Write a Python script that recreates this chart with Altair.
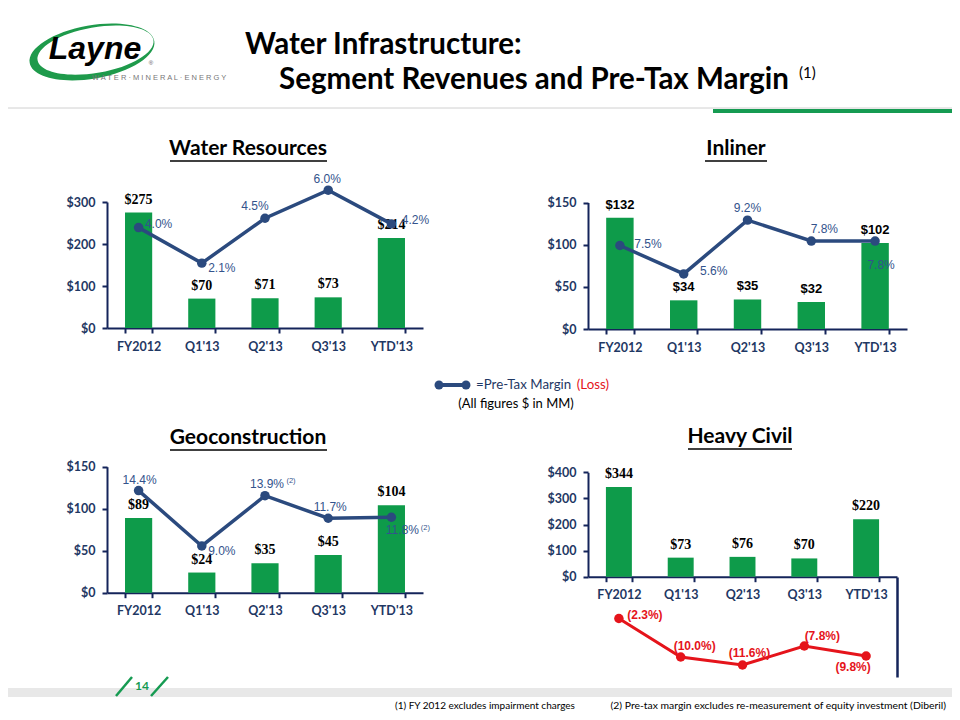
import altair as alt
import pandas as pd

# ---------------- data ----------------
CATEGORIES = ["FY2012", "Q1'13", "Q2'13", "Q3'13", "YTD'13"]

WR_REVENUE = [275, 70, 71, 73, 214]
WR_MARGIN = [4.0, 2.1, 4.5, 6.0, 4.2]
WR_TICKS = [0, 100, 200, 300]

IN_REVENUE = [132, 34, 35, 32, 102]
IN_MARGIN = [7.5, 5.6, 9.2, 7.8, 7.8]
IN_TICKS = [0, 50, 100, 150]

GEO_REVENUE = [89, 24, 35, 45, 104]
GEO_MARGIN = [14.4, 9.0, 13.9, 11.7, 11.8]
GEO_NOTES = ["", "", "(2)", "", "(2)"]
GEO_TICKS = [0, 50, 100, 150]

HC_REVENUE = [344, 73, 76, 70, 220]
HC_MARGIN = [-2.3, -10.0, -11.6, -7.8, -9.8]
HC_TICKS = [0, 100, 200, 300, 400]

# ---------------- style ----------------
W, H = 944, 704
M = 8


def P(v):
    return v - M


GREEN = "#0E9B4A"
NAVY = "#14245A"
AXIS_LABEL = "#1F3864"
LINE_NAVY = "#2B4A7E"
MARGIN_TEXT = "#33538C"
RED = "#E5141B"
SANS = "Liberation Sans"
SERIF = "Liberation Serif"
CAL = "Lato"


def fmt_margin(v):
    return f"({abs(v):.1f}%)" if v < 0 else f"{v:.1f}%"


def make_df(rev, margin, notes=None):
    return pd.DataFrame({
        "idx": list(range(len(CATEGORIES))),
        "cat": CATEGORIES,
        "rev": rev,
        "margin": margin,
        "rlabel": [f"${v}" for v in rev],
        "mlabel": [fmt_margin(v) for v in margin],
        "note": notes if notes else [""] * len(CATEGORIES),
    })


def panel(df, cfg):
    x = alt.X(
        "cat:N", sort=CATEGORIES, title=None,
        scale=alt.Scale(range=[P(cfg["x0"]), P(cfg["x1"])],
                        paddingInner=cfg["pad"], paddingOuter=cfg["pad"] / 2),
        axis=alt.Axis(orient="bottom", offset=P(cfg["y0"]) - H, tickBand="extent",
                      labelAngle=0, domainColor=NAVY, domainWidth=2, tickColor=NAVY,
                      tickWidth=2, tickSize=5, labelPadding=7, labelFont=CAL,
                      labelFontSize=12.5, labelFontWeight="bold", labelColor=AXIS_LABEL,
                      grid=False),
    )
    ybar = alt.Y(
        "rev:Q", title=None,
        scale=alt.Scale(domain=[0, cfg["ymax"]], range=[P(cfg["y0"]), P(cfg["y1"])],
                        nice=False, zero=True),
        axis=alt.Axis(orient="left", offset=-P(cfg["x0"]), values=cfg["ticks"],
                      labelExpr="'$' + datum.value", grid=False, domainColor=NAVY,
                      domainWidth=2, tickColor=NAVY, tickWidth=2, tickSize=5,
                      labelPadding=7, labelFont=CAL, labelFontSize=12.5,
                      labelFontWeight="bold", labelColor=AXIS_LABEL),
    )
    lr = cfg.get("lrange", (cfg["y0"], cfg["y1"]))
    if cfg.get("right_axis"):
        laxis = alt.Axis(orient="right", offset=P(cfg["x1"]) - W, ticks=False,
                         labels=False, grid=False, domainColor=NAVY, domainWidth=2.5)
    else:
        laxis = None
    yline = alt.Y("margin:Q", title=None,
                  scale=alt.Scale(domain=cfg["ldom"], range=[P(lr[0]), P(lr[1])],
                                  nice=False, zero=False),
                  axis=laxis)

    base = alt.Chart(df)
    bars = base.mark_bar(color=GREEN).encode(x=x, y=ybar)
    blabels = base.mark_text(font=cfg["barfont"], fontSize=cfg["barsize"], fontWeight="bold",
                             color="black", baseline="middle", dy=-13).encode(
        x=x, y=ybar, text="rlabel:N")
    bar_group = alt.layer(bars, blabels)

    lcolor = cfg["lcolor"]
    line = base.mark_line(color=lcolor, strokeWidth=cfg["lw"]).encode(x=x, y=yline)
    pts = base.mark_point(filled=True, color=lcolor, size=90, opacity=1).encode(
        x=x, y=yline)
    line_layers = [line, pts]
    for i, (dx, dy) in enumerate(cfg["offsets"]):
        line_layers.append(
            base.transform_filter(alt.datum.idx == i).mark_text(
                font=SANS, fontSize=12, fontWeight=cfg["mweight"], color=cfg["mcolor"],
                dx=dx, dy=dy, baseline="middle", align="center").encode(
                x=x, y=yline, text="mlabel:N"))
    for i, (dx, dy) in cfg.get("note_offsets", {}).items():
        line_layers.append(
            base.transform_filter(alt.datum.idx == i).mark_text(
                font=SANS, fontSize=7.5, color=cfg["mcolor"], dx=dx, dy=dy,
                baseline="middle", align="center").encode(
                x=x, y=yline, text="note:N"))
    line_group = alt.layer(*line_layers)
    return alt.layer(bar_group, line_group).resolve_scale(y="independent")


WR_CFG = dict(x0=107, x1=423, y0=328, y1=202, ymax=300, ticks=WR_TICKS,
              ldom=[-1.37, 5.37], pad=0.57, barfont=SERIF, barsize=14, lcolor=LINE_NAVY,
              lw=3.5, mcolor=MARGIN_TEXT, mweight="normal",
              offsets=[(20, -4), (20, 5), (-10, -12), (-1, -11), (24, -4)])
IN_CFG = dict(x0=588, x1=907, y0=329, y1=202.5, ymax=150, ticks=IN_TICKS,
              ldom=[1.91, 10.38], pad=0.57, barfont=SANS, barsize=13, lcolor=LINE_NAVY,
              lw=3.5, mcolor=MARGIN_TEXT, mweight="normal",
              offsets=[(28, -2), (30, -3), (0, -12), (13, -12), (6, 24)])
GEO_CFG = dict(x0=107, x1=423, y0=592.7, y1=466.7, ymax=150, ticks=GEO_TICKS,
               ldom=[4.44, 16.73], pad=0.57, barfont=SERIF, barsize=14, lcolor=LINE_NAVY,
               lw=3.5, mcolor=MARGIN_TEXT, mweight="normal",
               offsets=[(1, -11), (20, 5), (2, -12), (2, -11), (11, 13)],
               note_offsets={2: (26, -15), 4: (34, 11)})
HC_CFG = dict(x0=588, x1=897, y0=576.7, y1=472.3, ymax=400, ticks=HC_TICKS,
              ldom=[-14, 6], lrange=(677, 577), right_axis=True, pad=0.58,
              barfont=SERIF, barsize=14, lcolor=RED, lw=3, mcolor=RED, mweight="bold",
              offsets=[(26, -4), (14, -11), (7, -12), (18, -10), (-13, 11)])

panels = [
    panel(make_df(WR_REVENUE, WR_MARGIN), WR_CFG),
    panel(make_df(IN_REVENUE, IN_MARGIN), IN_CFG),
    panel(make_df(GEO_REVENUE, GEO_MARGIN, GEO_NOTES), GEO_CFG),
    panel(make_df(HC_REVENUE, HC_MARGIN), HC_CFG),
]

ONE = alt.Data(values=[{}])


def txt(text, x, y, size, color="black", weight="normal", align="left",
        font=CAL, style="normal", opacity=1.0):
    return alt.Chart(ONE).mark_text(
        text=text, font=font, fontSize=size, fontWeight=weight, color=color,
        align=align, baseline="middle", fontStyle=style, opacity=opacity).encode(
        x=alt.value(P(x)), y=alt.value(P(y)))


def hrule(x1, x2, y, color, width):
    return alt.Chart(ONE).mark_rule(color=color, strokeWidth=width).encode(
        x=alt.value(P(x1)), x2=alt.value(P(x2)), y=alt.value(P(y)))


def seg(x1, y1, x2, y2, color, width):
    return alt.Chart(ONE).mark_rule(color=color, strokeWidth=width).encode(
        x=alt.value(P(x1)), x2=alt.value(P(x2)), y=alt.value(P(y1)), y2=alt.value(P(y2)))


SWOOSH = ("M -1 0 A 1 0.42 0 1 1 1 0 A 1 0.42 0 1 1 -1 0 Z "
          "M -0.87 -0.02 A 0.93 0.36 0 1 0 0.99 -0.02 A 0.93 0.36 0 1 0 -0.87 -0.02 Z")

deco = [
    # logo
    alt.Chart(ONE).mark_point(shape=SWOOSH, filled=True, color="#1E9A4B", size=16000,
                              angle=350, opacity=1).encode(
        x=alt.value(P(92)), y=alt.value(P(52))),
    txt("Layne", 95, 49, 32, weight="bold", align="center", font=SANS, style="italic"),
    txt("®", 151, 63, 6, color="#555555", align="center", font=SANS),
    txt("W A T E R   ·   M I N E R A L   ·   E N E R G Y", 92, 78, 7.5, color="#777777",
        font=SANS),
    # title
    txt("Water Infrastructure:", 245, 45, 29.5, weight="bold"),
    txt("Segment Revenues and Pre-Tax Margin", 279, 80, 29.5, weight="bold"),
    txt("(1)", 799, 73, 15, weight="normal"),
    # separators
    hrule(0, 960, 108, "#d0d0d0", 1),
    hrule(713, 960, 111, "#169B52", 4),
    # panel titles
    txt("Water Resources", 248, 149, 21, weight="bold", align="center"),
    hrule(170, 327, 161, "black", 1.3),
    txt("Inliner", 736, 149, 21, weight="bold", align="center"),
    hrule(705, 767, 161, "black", 1.3),
    txt("Geoconstruction", 248, 438, 21, weight="bold", align="center"),
    hrule(170, 327, 450, "black", 1.3),
    txt("Heavy Civil", 740, 437, 21, weight="bold", align="center"),
    hrule(688, 792, 449, "black", 1.3),
    # legend
    hrule(438, 467, 385, LINE_NAVY, 4),
    alt.Chart(pd.DataFrame({"px": [P(439), P(466)]})).mark_point(
        filled=True, color=LINE_NAVY, size=80, opacity=1).encode(
        x=alt.X("px:Q", scale=None), y=alt.value(P(385))),
    txt("=Pre-Tax Margin", 476, 385, 13.3, color=AXIS_LABEL),
    txt("(Loss)", 609, 385, 13.3, color=RED, align="right"),
    txt("(All figures $ in MM)", 516, 404, 13, align="center"),
    # footer
    alt.Chart(ONE).mark_rect(color="#e8e8e8").encode(
        x=alt.value(P(0)), x2=alt.value(P(960)), y=alt.value(P(688)), y2=alt.value(P(697))),
    seg(116, 696, 132, 677, "#169B52", 2.5),
    seg(151, 696, 168, 677, "#169B52", 2.5),
    txt("14", 142, 686, 12, color="#169B52", weight="bold", align="center"),
    txt("(1)  FY 2012 excludes impairment charges", 395, 706, 10),
    txt("(2)  Pre-tax margin excludes re-measurement of equity investment (Diberil)",
        946, 706, 10.4, align="right"),
]

chart = alt.layer(*deco, *panels).resolve_scale(x="independent", y="independent").properties(
    width=W, height=H, autosize=alt.AutoSizeParams(type="none"), padding=0,
    background="white",
).configure_view(stroke=None)

chart.save("out.html", embed_options={"renderer": "svg", "actions": False})
